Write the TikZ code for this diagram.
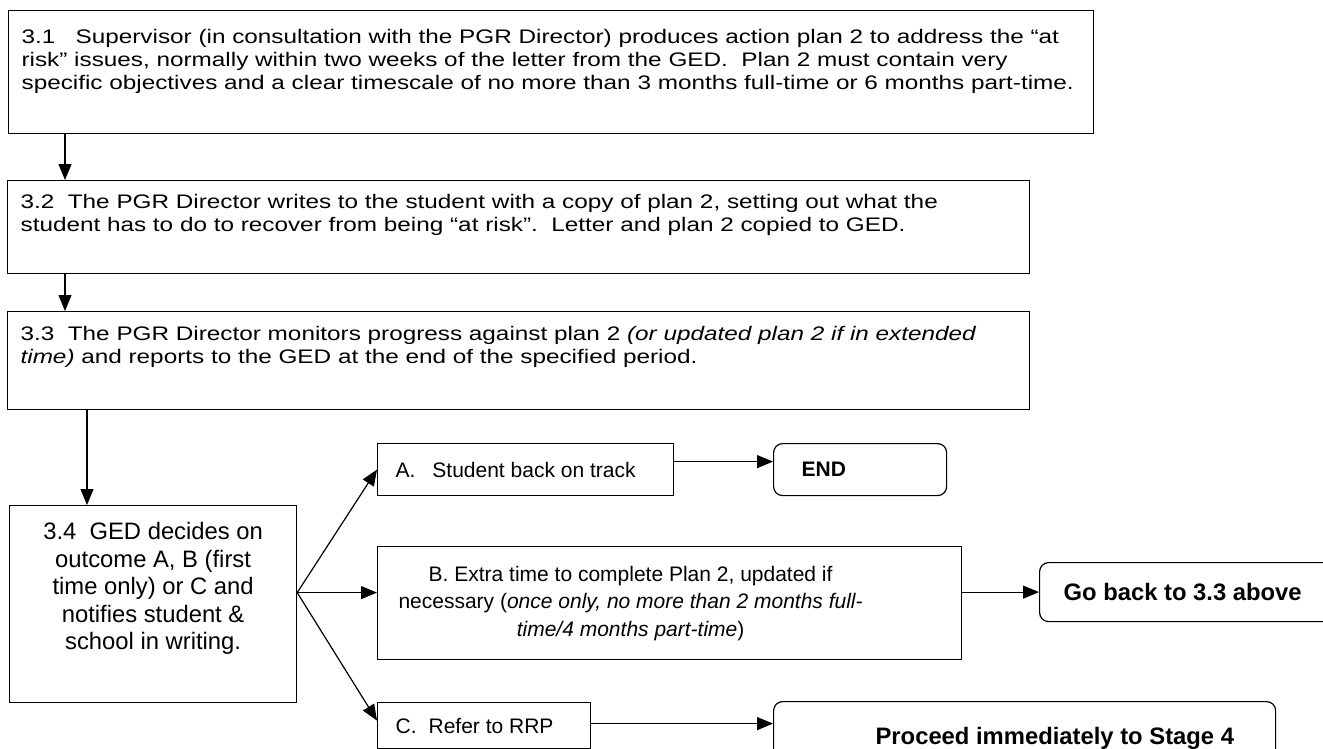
\documentclass[tikz,border=0pt]{standalone}
\usepackage{fontspec}
\setmainfont{Liberation Sans}
\newfontfamily\stepfont[FakeStretch=1.24]{Liberation Sans}
\usetikzlibrary{arrows.meta}
\def\toptext#1#2#3{\parbox[c][#1][t]{#2}{\raggedright\leftskip=8pt #3}}
\def\midtext#1#2#3{\parbox[c][#1][t]{#2}{\centering #3}}
\def\onetext#1#2#3{\makebox[#1][l]{\hspace*{#2}#3}}
\tikzset{
  box/.style={draw, line width=1.2pt, inner sep=0pt, anchor=north west},
  roundbox/.style={box, rounded corners=9pt},
  flow/.style={line width=1.2pt, -{Triangle[length=16pt,width=13pt]}},
  smallfont/.style={font=\stepfont\fontsize{19.6}{23}\selectfont},
  bigfont/.style={font=\fontsize{23.8}{27.5}\selectfont},
  optfont/.style={font=\fontsize{21}{27.5}\selectfont},
  endfont/.style={font=\bfseries\fontsize{23.8}{27.5}\selectfont},
}

\begin{document}
\begin{tikzpicture}[x=1pt,y=-1pt]
			%%%%% START %%%%%
			\useasboundingbox (0,0) rectangle (1323,748);
			
			\node[box, smallfont, inner xsep=5pt, inner ysep=19pt] (s1) at (8,10) {\toptext{85pt}{1075pt}{3.1\ \ \ Supervisor (in consultation with the PGR Director) produces action plan 2 to address the “at\\ risk” issues, normally within two weeks of the letter from the GED.\ \ Plan 2 must contain very\\ specific objectives and a clear timescale of no more than 3 months full-time or 6 months part-time.}};
			\node[box, smallfont, inner xsep=5pt, inner ysep=14pt] (s2) at (7,180) {\toptext{65pt}{1012pt}{3.2\ \ The PGR Director writes to the student with a copy of plan 2, setting out what the\\ student has to do to recover from being “at risk”.\ \ Letter and plan 2 copied to GED.}};
			\node[box, smallfont, inner xsep=5pt, inner ysep=15pt] (s3) at (7,311) {\toptext{68pt}{1012pt}{3.3\ \ The PGR Director monitors progress against plan 2 \textit{(or updated plan 2 if in extended}\\ \textit{time)} and reports to the GED at the end of the specified period.}};
			\node[box, bigfont, inner xsep=4pt, inner ysep=17pt] (s4) at (9,505) {\midtext{163pt}{279pt}{3.4\ \ GED decides on\\ outcome A, B (first\\ time only) or C and\\ notifies student \&\\ school in writing.}};
			
			\node[box, optfont, minimum height=52pt] (oa) at (377,443) {\onetext{296pt}{18pt}{A.\hspace{17pt}Student back on track}};
			\node[box, optfont, minimum height=113pt] (ob) at (377,546) {\parbox{506pt}{\centering B. Extra time to complete Plan 2, updated if\\ necessary (\textit{once only, no more than 2 months full-}\\ \textit{time/4 months part-time})}\hspace*{78pt}};
			\node[box, optfont, minimum height=46pt] (oc) at (377,702) {\onetext{213pt}{18pt}{C.\hspace{12pt}Refer to RRP}};
			
			\node[roundbox, endfont, font=\bfseries\fontsize{21}{25}\selectfont, minimum height=52pt] (fin) at (773,443) {\onetext{173pt}{28pt}{END}};
			\node[roundbox, endfont, minimum height=59pt] (back) at (1039,562) {\onetext{298pt}{24pt}{Go back to 3.3 above}};
			\node[roundbox, endfont, minimum height=74pt] (stage) at (773,701) {\onetext{502pt}{102pt}{Proceed immediately to Stage 4}};
			
			\draw[flow] ([xshift=57pt]s1.south west) -- ([xshift=58pt]s2.north west);
			\draw[flow] ([xshift=58pt]s2.south west) -- ([xshift=58pt]s3.north west);
			\draw[flow] ([xshift=80pt]s3.south west) -- ([xshift=78pt]s4.north west);
			
			\coordinate (fork) at ([yshift=11.5pt]s4.east);
			\draw[flow] (fork) -- (oa.west);
			\draw[flow] (fork) -- (fork -| ob.west);
			\draw[flow] (fork) -- ([yshift=5pt]oc.west);
			
			\draw[flow] ([yshift=8pt]oa.east) -- ([yshift=8pt]fin.west);
			\draw[flow] (ob.east |- back.west) -- (back.west);
			\draw[flow] ([yshift=2pt]oc.east) -- ([yshift=2pt]oc.east -| stage.west);
			%%%%% END %%%%%
\end{tikzpicture}
\end{document}
